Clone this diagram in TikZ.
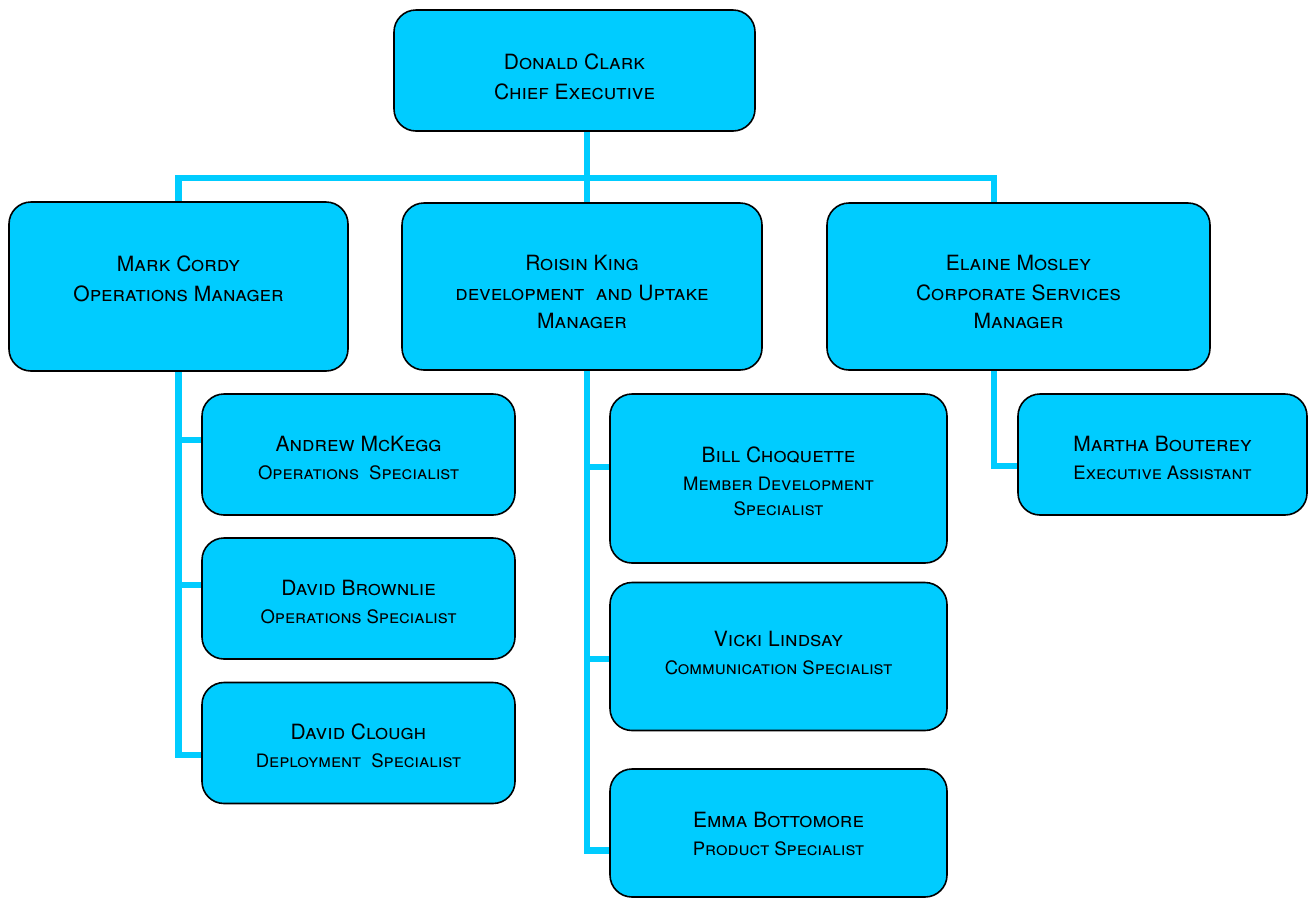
\documentclass[tikz,border=0pt]{standalone}
\usepackage{fontspec}
\setmainfont{TeX Gyre Heros}
\usetikzlibrary{backgrounds}
\definecolor{boxcyan}{RGB}{0,204,255}
\definecolor{linecyan}{RGB}{0,204,255}
\tikzset{
  box/.style={draw=black, line width=1.6pt, fill=boxcyan, rounded corners=22pt,
    align=center, inner sep=0pt, font=\fontsize{21}{30}\selectfont\scshape},
  conn/.style={draw=linecyan, line width=6.5pt},
}
\newcommand\smallline[1]{{\fontsize{18.5}{28}\selectfont #1}}
\newcommand\drop[1]{\rule{0pt}{#1pt}}
\newcommand\lift[1]{\rule[-#1pt]{0pt}{0pt}}
\begin{document}
\begin{tikzpicture}[x=1pt,y=-1pt]
\useasboundingbox (0,0) rectangle (1313,898);
% top
\node[box, minimum width=361pt, minimum height=121pt] (ceo) at (574.5,70.5) {\drop{28}Donald Clark\\Chief Executive};
% managers
\node[box, minimum width=339pt, minimum height=169pt] (mark) at (178.5,286.5) {Mark Cordy\\Operations Manager\lift{16}};
\node[box, minimum width=360pt, minimum height=167pt] (roisin) at (582,286.5) {\drop{27}Roisin King\\development\ \ and Uptake\\[-2pt]Manager};
\node[box, minimum width=383pt, minimum height=167pt] (elaine) at (1018.5,286.5) {\drop{27}Elaine Mosley\\Corporate Services\\[-2pt]Manager};
% Mark's team
\node[box, minimum width=313pt, minimum height=121pt] (andrew) at (358.5,454.5) {\drop{22}Andrew McKegg\\[-2pt]\smallline{Operations\ \ Specialist}};
\node[box, minimum width=313pt, minimum height=121pt] (davidb) at (358.5,598.5) {\drop{22}David Brownlie\\[-2pt]\smallline{Operations Specialist}};
\node[box, minimum width=313pt, minimum height=121pt] (davidc) at (358.5,743) {\drop{22}David Clough\\[-2pt]\smallline{Deployment\ \ Specialist}};
% Roisin's team
\node[box, minimum width=337pt, minimum height=169pt] (bill) at (778.5,478.5) {\drop{21}Bill Choquette\\[-2pt]\smallline{Member Development}\\[-5pt]\smallline{Specialist}};
\node[box, minimum width=337pt, minimum height=148pt] (vicki) at (778.5,656.5) {Vicki Lindsay\\[-2pt]\smallline{Communication Specialist}\lift{8}};
\node[box, minimum width=337pt, minimum height=128pt] (emma) at (778.5,833) {\drop{18}Emma Bottomore\\[-2pt]\smallline{Product Specialist}};
% Elaine's team
\node[box, minimum width=289pt, minimum height=121pt] (martha) at (1162.5,454.5) {\drop{22}Martha Bouterey\\[-2pt]\smallline{Executive Assistant}};
% connectors
\coordinate (j0) at (587,178);
\coordinate (ex) at (994,0);
\begin{scope}[on background layer]
\draw[conn] ([xshift=12.5pt]ceo.south) -- (j0);
\draw[conn] (mark.north) |- (j0) -| (elaine.north -| ex);
\draw[conn] (j0) -- (roisin.north -| j0);
\draw[conn] ([yshift=14.5pt]andrew.west) -| (mark.south);
\draw[conn] ([yshift=13.5pt]davidb.west) -| (mark.south);
\draw[conn] ([yshift=-12pt]davidc.west) -| (mark.south);
\draw[conn] ([yshift=11.5pt]bill.west) -| ([xshift=5pt]roisin.south);
\draw[conn] ([yshift=-2.5pt]vicki.west) -| ([xshift=5pt]roisin.south);
\draw[conn] ([yshift=-17.5pt]emma.west) -| ([xshift=5pt]roisin.south);
\draw[conn] ([yshift=-11.5pt]martha.west) -| (elaine.south -| ex);
\end{scope}
\end{tikzpicture}
\end{document}
